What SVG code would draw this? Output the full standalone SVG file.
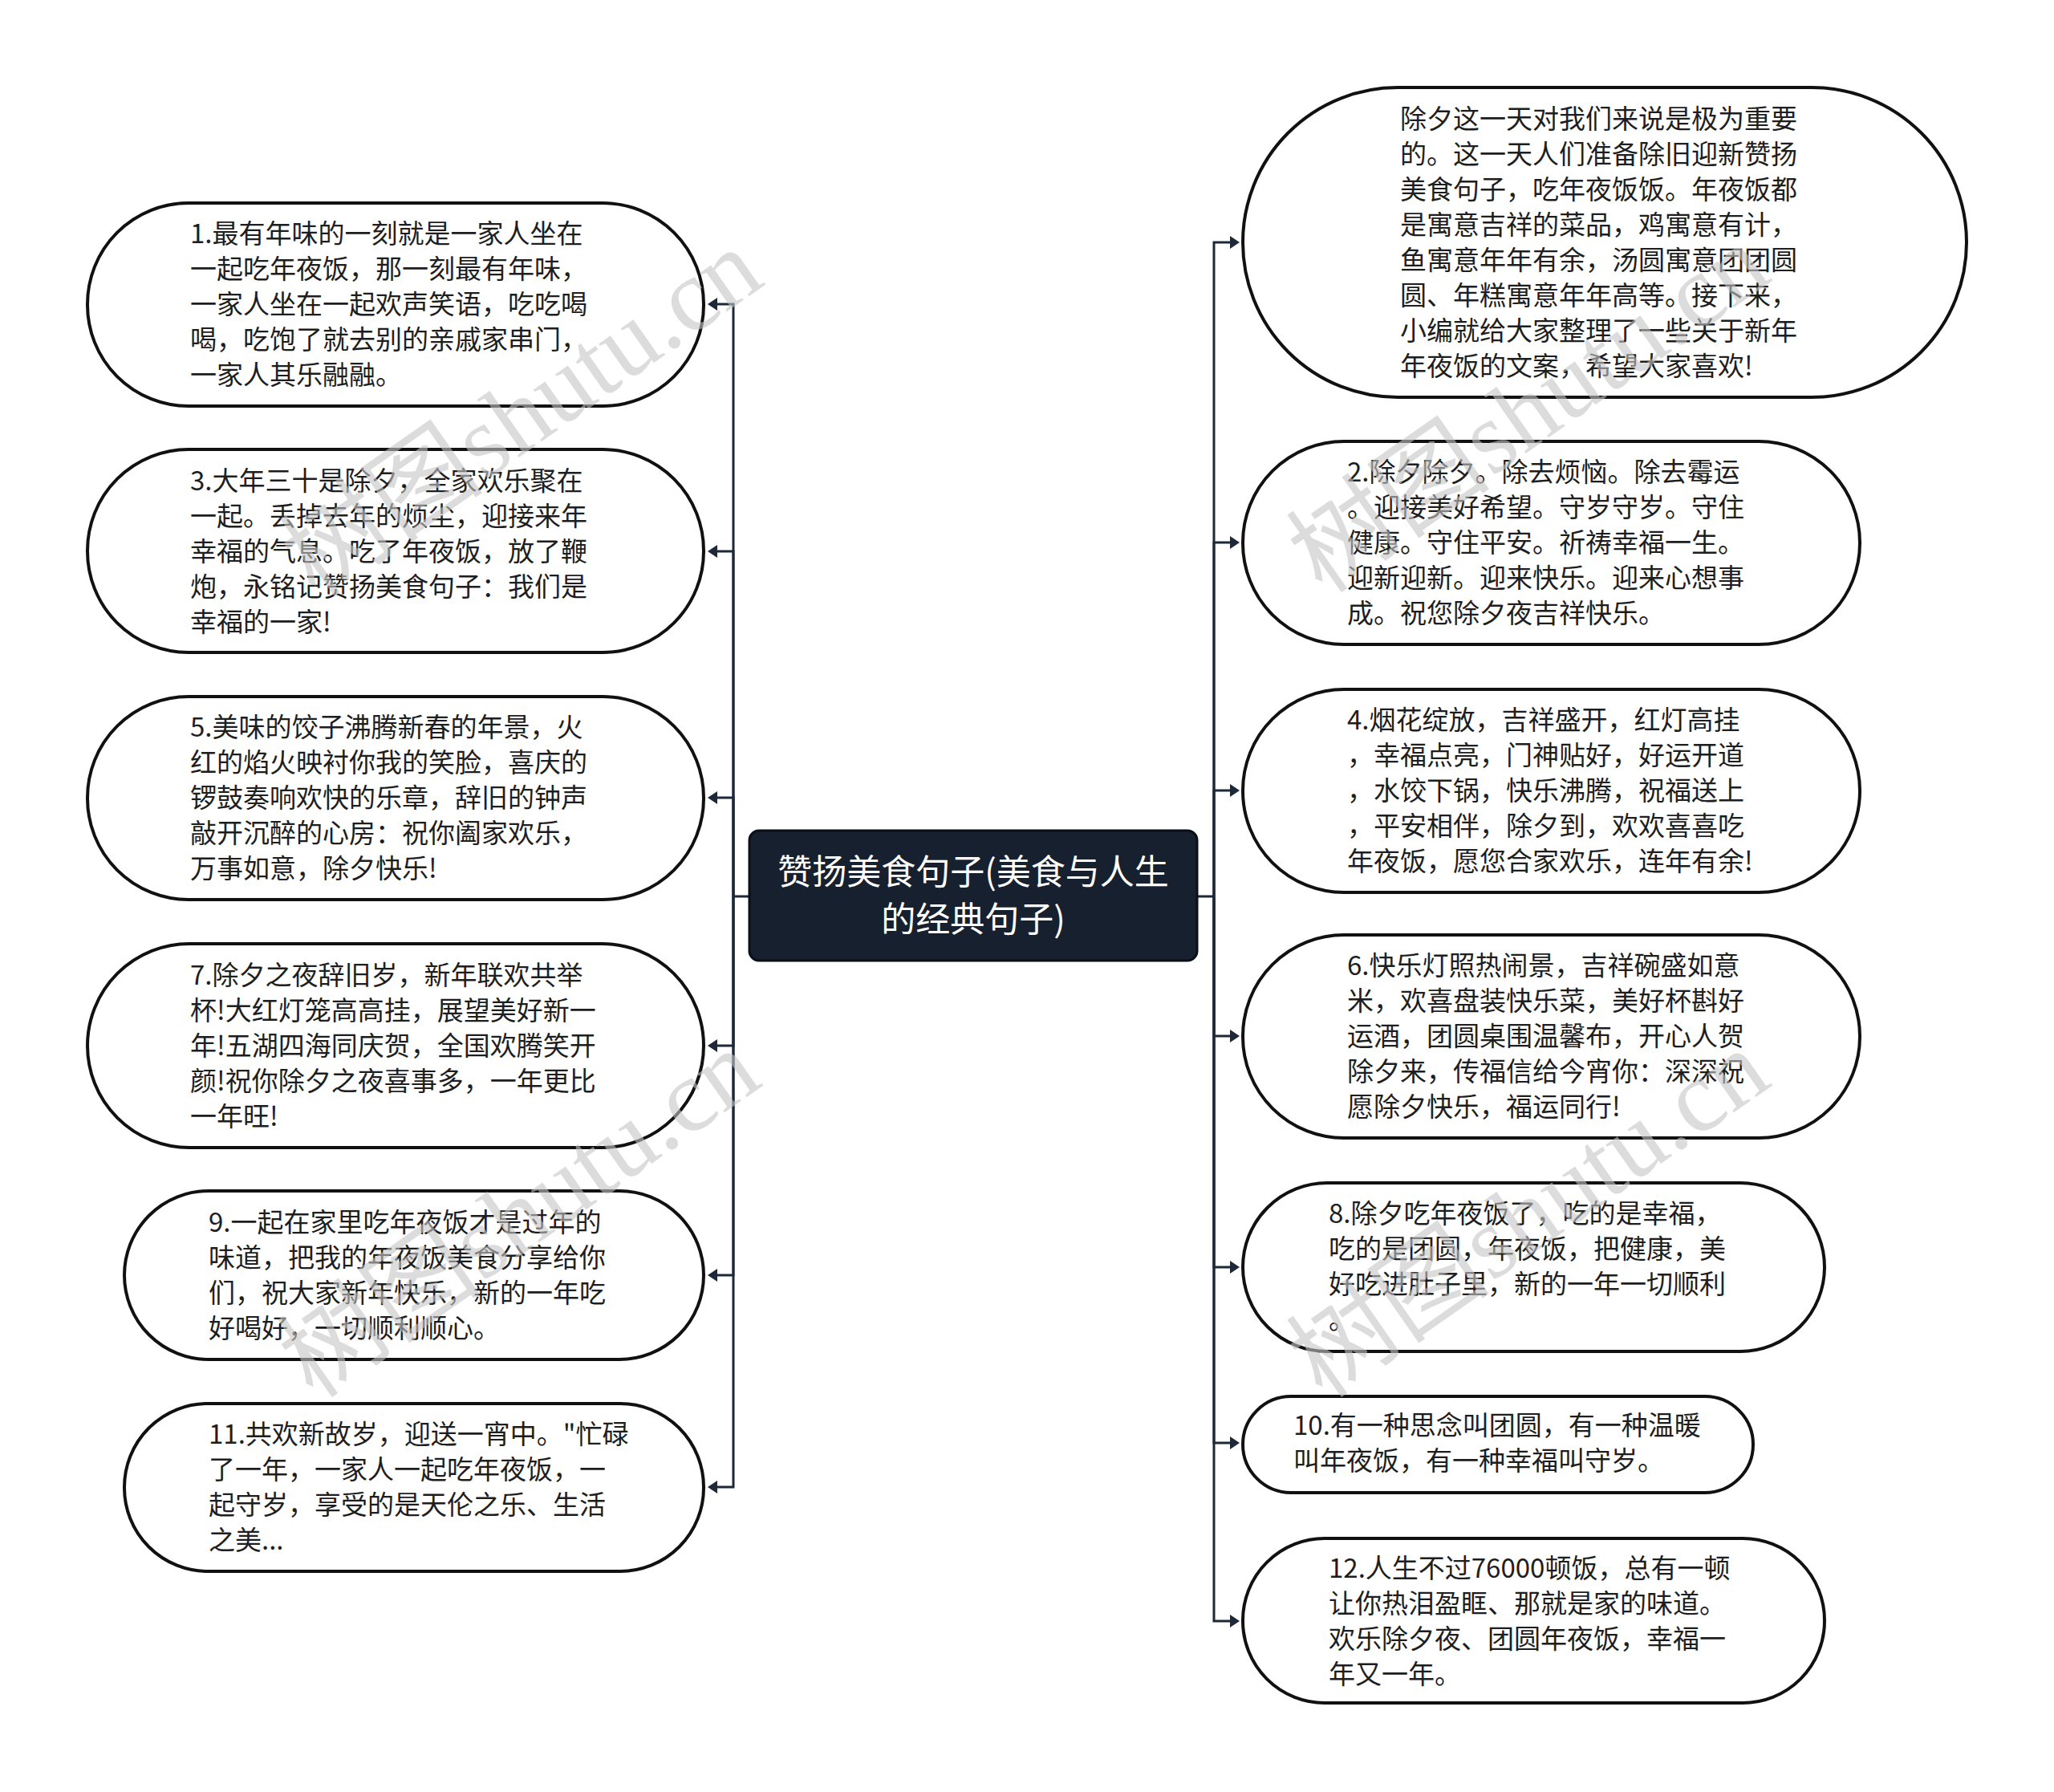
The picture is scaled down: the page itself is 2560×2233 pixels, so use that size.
<svg xmlns="http://www.w3.org/2000/svg" width="2560" height="2233" viewBox="0 0 2560 2233">
<defs>
<style>
.node rect{fill:#ffffff;stroke:#111111;stroke-width:4}
.t{font-family:"Noto Sans CJK SC","Noto Sans",sans-serif;font-size:33px;fill:#1e1e1e}
.ct{font-family:"Noto Sans CJK SC","Noto Sans",sans-serif;font-size:43px;fill:#ffffff;text-anchor:middle}
.conn{stroke:#1d2838;stroke-width:3;fill:none}
.wm{font-family:"Liberation Serif","Noto Sans CJK SC",serif;font-size:128px;fill:#c4c4c4;fill-opacity:0.6;text-anchor:middle}
</style>
<marker id="arr" viewBox="0 0 12 16" refX="2" refY="8" markerWidth="12" markerHeight="16" markerUnits="userSpaceOnUse" orient="auto">
<path d="M0,0 L12,8 L0,16 z" fill="#1d2838"/>
</marker>
</defs>
<rect width="2560" height="2233" fill="#ffffff"/>

<g id="connectors">
<path class="conn" d="M934 1117 H914"/>
<path class="conn" d="M914 1117 V379 H892" marker-end="url(#arr)"/>
<path class="conn" d="M914 1117 V687 H892" marker-end="url(#arr)"/>
<path class="conn" d="M914 1117 V994 H892" marker-end="url(#arr)"/>
<path class="conn" d="M914 1117 V1303 H892" marker-end="url(#arr)"/>
<path class="conn" d="M914 1117 V1589 H892" marker-end="url(#arr)"/>
<path class="conn" d="M914 1117 V1853 H892" marker-end="url(#arr)"/>
<path class="conn" d="M1492 1117 H1513"/>
<path class="conn" d="M1513 1117 V302 H1535" marker-end="url(#arr)"/>
<path class="conn" d="M1513 1117 V676 H1535" marker-end="url(#arr)"/>
<path class="conn" d="M1513 1117 V985 H1535" marker-end="url(#arr)"/>
<path class="conn" d="M1513 1117 V1291 H1535" marker-end="url(#arr)"/>
<path class="conn" d="M1513 1117 V1579 H1535" marker-end="url(#arr)"/>
<path class="conn" d="M1513 1117 V1798 H1535" marker-end="url(#arr)"/>
<path class="conn" d="M1513 1117 V2020 H1535" marker-end="url(#arr)"/>
</g>

<g id="center">
<rect x="934" y="1035" width="558" height="162" rx="12" fill="#17202e" stroke="#0b0f16" stroke-width="3"/>
<text class="ct" x="1213" y="1102">赞扬美食句子(美食与人生</text>
<text class="ct" x="1213" y="1161">的经典句子)</text>
</g>

<g id="n1" class="node">
<rect x="109" y="253" width="768" height="253" rx="126"/>
<text class="t" x="237" y="303">1.最有年味的一刻就是一家人坐在</text>
<text class="t" x="237" y="347">一起吃年夜饭，那一刻最有年味，</text>
<text class="t" x="237" y="391">一家人坐在一起欢声笑语，吃吃喝</text>
<text class="t" x="237" y="435">喝，吃饱了就去别的亲戚家串门，</text>
<text class="t" x="237" y="479">一家人其乐融融。</text>
</g>

<g id="n3" class="node">
<rect x="109" y="560" width="768" height="253" rx="126"/>
<text class="t" x="237" y="611">3.大年三十是除夕，全家欢乐聚在</text>
<text class="t" x="237" y="655">一起。丢掉去年的烦尘，迎接来年</text>
<text class="t" x="237" y="699">幸福的气息。吃了年夜饭，放了鞭</text>
<text class="t" x="237" y="743">炮，永铭记赞扬美食句子：我们是</text>
<text class="t" x="237" y="787">幸福的一家!</text>
</g>

<g id="n5" class="node">
<rect x="109" y="868" width="768" height="253" rx="126"/>
<text class="t" x="237" y="918">5.美味的饺子沸腾新春的年景，火</text>
<text class="t" x="237" y="962">红的焰火映衬你我的笑脸，喜庆的</text>
<text class="t" x="237" y="1006">锣鼓奏响欢快的乐章，辞旧的钟声</text>
<text class="t" x="237" y="1050">敲开沉醉的心房：祝你阖家欢乐，</text>
<text class="t" x="237" y="1094">万事如意，除夕快乐!</text>
</g>

<g id="n7" class="node">
<rect x="109" y="1176" width="768" height="254" rx="127"/>
<text class="t" x="237" y="1227">7.除夕之夜辞旧岁，新年联欢共举</text>
<text class="t" x="237" y="1271">杯!大红灯笼高高挂，展望美好新一</text>
<text class="t" x="237" y="1315">年!五湖四海同庆贺，全国欢腾笑开</text>
<text class="t" x="237" y="1359">颜!祝你除夕之夜喜事多，一年更比</text>
<text class="t" x="237" y="1403">一年旺!</text>
</g>

<g id="n9" class="node">
<rect x="155" y="1484" width="722" height="210" rx="105"/>
<text class="t" x="260" y="1535">9.一起在家里吃年夜饭才是过年的</text>
<text class="t" x="260" y="1579">味道，把我的年夜饭美食分享给你</text>
<text class="t" x="260" y="1623">们，祝大家新年快乐，新的一年吃</text>
<text class="t" x="260" y="1667">好喝好，一切顺利顺心。</text>
</g>

<g id="n11" class="node">
<rect x="155" y="1749" width="722" height="209" rx="104"/>
<text class="t" x="260" y="1799">11.共欢新故岁，迎送一宵中。"忙碌</text>
<text class="t" x="260" y="1843">了一年，一家人一起吃年夜饭，一</text>
<text class="t" x="260" y="1887">起守岁，享受的是天伦之乐、生活</text>
<text class="t" x="260" y="1931">之美...</text>
</g>

<g id="intro" class="node">
<rect x="1549" y="109" width="902" height="386" rx="193"/>
<text class="t" x="1745" y="160">除夕这一天对我们来说是极为重要</text>
<text class="t" x="1745" y="204">的。这一天人们准备除旧迎新赞扬</text>
<text class="t" x="1745" y="248">美食句子，吃年夜饭饭。年夜饭都</text>
<text class="t" x="1745" y="292">是寓意吉祥的菜品，鸡寓意有计，</text>
<text class="t" x="1745" y="336">鱼寓意年年有余，汤圆寓意团团圆</text>
<text class="t" x="1745" y="380">圆、年糕寓意年年高等。接下来，</text>
<text class="t" x="1745" y="424">小编就给大家整理了一些关于新年</text>
<text class="t" x="1745" y="468">年夜饭的文案，希望大家喜欢!</text>
</g>

<g id="n2" class="node">
<rect x="1549" y="550" width="769" height="253" rx="126"/>
<text class="t" x="1679" y="600">2.除夕除夕。除去烦恼。除去霉运</text>
<text class="t" x="1679" y="644">。迎接美好希望。守岁守岁。守住</text>
<text class="t" x="1679" y="688">健康。守住平安。祈祷幸福一生。</text>
<text class="t" x="1679" y="732">迎新迎新。迎来快乐。迎来心想事</text>
<text class="t" x="1679" y="776">成。祝您除夕夜吉祥快乐。</text>
</g>

<g id="n4" class="node">
<rect x="1549" y="859" width="769" height="253" rx="126"/>
<text class="t" x="1679" y="909">4.烟花绽放，吉祥盛开，红灯高挂</text>
<text class="t" x="1679" y="953">，幸福点亮，门神贴好，好运开道</text>
<text class="t" x="1679" y="997">，水饺下锅，快乐沸腾，祝福送上</text>
<text class="t" x="1679" y="1041">，平安相伴，除夕到，欢欢喜喜吃</text>
<text class="t" x="1679" y="1085">年夜饭，愿您合家欢乐，连年有余!</text>
</g>

<g id="n6" class="node">
<rect x="1549" y="1165" width="769" height="253" rx="126"/>
<text class="t" x="1679" y="1215">6.快乐灯照热闹景，吉祥碗盛如意</text>
<text class="t" x="1679" y="1259">米，欢喜盘装快乐菜，美好杯斟好</text>
<text class="t" x="1679" y="1303">运酒，团圆桌围温馨布，开心人贺</text>
<text class="t" x="1679" y="1347">除夕来，传福信给今宵你：深深祝</text>
<text class="t" x="1679" y="1391">愿除夕快乐，福运同行!</text>
</g>

<g id="n8" class="node">
<rect x="1549" y="1474" width="725" height="210" rx="105"/>
<text class="t" x="1656" y="1524">8.除夕吃年夜饭了，吃的是幸福，</text>
<text class="t" x="1656" y="1568">吃的是团圆，年夜饭，把健康，美</text>
<text class="t" x="1656" y="1612">好吃进肚子里，新的一年一切顺利</text>
<text class="t" x="1656" y="1656">。</text>
</g>

<g id="n10" class="node">
<rect x="1549" y="1740" width="636" height="120" rx="60"/>
<text class="t" x="1612" y="1788">10.有一种思念叫团圆，有一种温暖</text>
<text class="t" x="1612" y="1832">叫年夜饭，有一种幸福叫守岁。</text>
</g>

<g id="n12" class="node">
<rect x="1549" y="1917" width="725" height="205" rx="102"/>
<text class="t" x="1656" y="1966">12.人生不过76000顿饭，总有一顿</text>
<text class="t" x="1656" y="2010">让你热泪盈眶、那就是家的味道。</text>
<text class="t" x="1656" y="2054">欢乐除夕夜、团圆年夜饭，幸福一</text>
<text class="t" x="1656" y="2098">年又一年。</text>
</g>

<g id="watermarks">
<text class="wm" transform="translate(675 550) rotate(-35)">树图shutu.cn</text>
<text class="wm" transform="translate(1930 545) rotate(-35)">树图shutu.cn</text>
<text class="wm" transform="translate(672 1548) rotate(-35)">树图shutu.cn</text>
<text class="wm" transform="translate(1930 1548) rotate(-35)">树图shutu.cn</text>
</g>
</svg>
